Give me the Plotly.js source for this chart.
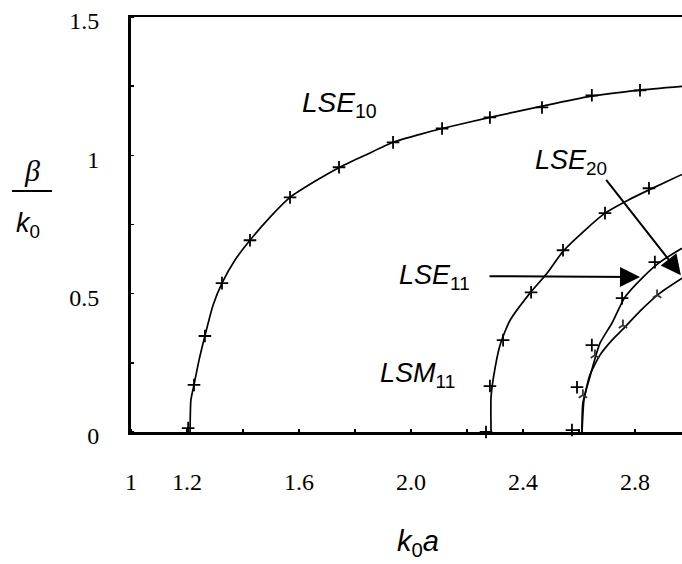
<!DOCTYPE html>
<html>
<head>
<meta charset="utf-8">
<script src="https://cdn.plot.ly/plotly-3.0.1.min.js"></script>
<style>html,body{margin:0;padding:0;background:#fff;}#chart{width:682px;height:564px;}</style>
</head>
<body>
<div id="chart"></div>
<script>
// ---- data ----
const xTickVals = [1, 1.2, 1.6, 2.0, 2.4, 2.8];
const xTickText = ['1', '1.2', '1.6', '2.0', '2.4', '2.8'];
const yTickVals = [0, 0.5, 1, 1.5];
const yTickText = ['0', '0.5', '1', '1.5'];

// LSE10 curve and computed points
const lse10LineX = [1.211, 1.214, 1.225, 1.243, 1.264, 1.293, 1.325, 1.371, 1.425, 1.496, 1.568, 1.657, 1.746, 1.836, 1.936, 2.032, 2.111, 2.282, 2.464, 2.639, 2.811, 2.968];
const lse10LineY = [0, 0.116, 0.170, 0.260, 0.347, 0.458, 0.538, 0.621, 0.693, 0.776, 0.848, 0.906, 0.957, 1.0, 1.047, 1.076, 1.097, 1.137, 1.177, 1.213, 1.235, 1.249];
const lse10PtsX = [1.204, 1.225, 1.264, 1.325, 1.425, 1.568, 1.743, 1.936, 2.111, 2.282, 2.468, 2.646, 2.818];
const lse10PtsY = [0.014, 0.170, 0.347, 0.538, 0.693, 0.848, 0.957, 1.047, 1.097, 1.137, 1.173, 1.217, 1.235];

// LSM11 curve and points
const lsm11LineX = [2.286, 2.286, 2.296, 2.318, 2.354, 2.425, 2.486, 2.543, 2.621, 2.693, 2.775, 2.854, 2.968];
const lsm11LineY = [0, 0.126, 0.206, 0.314, 0.404, 0.502, 0.574, 0.653, 0.729, 0.791, 0.838, 0.877, 0.931];
const lsm11PtsX = [2.268, 2.282, 2.329, 2.429, 2.543, 2.693, 2.850];
const lsm11PtsY = [0, 0.166, 0.332, 0.505, 0.657, 0.791, 0.881];

// LSE11 curve and points
const lse11LineX = [2.611, 2.614, 2.639, 2.675, 2.718, 2.764, 2.829, 2.889, 2.968];
const lse11LineY = [0, 0.105, 0.199, 0.321, 0.394, 0.487, 0.560, 0.614, 0.664];
const lse11PtsX = [2.575, 2.593, 2.646, 2.754, 2.871];
const lse11PtsY = [0.007, 0.162, 0.314, 0.484, 0.614];

// LSE20 curve and points
const lse20LineX = [2.611, 2.618, 2.639, 2.675, 2.718, 2.764, 2.818, 2.889, 2.968];
const lse20LineY = [0, 0.116, 0.206, 0.278, 0.332, 0.379, 0.437, 0.502, 0.556];
const lse20PtsX = [2.614, 2.657, 2.757, 2.879];
const lse20PtsY = [0.134, 0.278, 0.386, 0.495];

// ---- traces ----
function lineTrace(x, y) {
  return {x: x, y: y, mode: 'lines', type: 'scatter', hoverinfo: 'skip',
          line: {color: '#000', width: 1.7, shape: 'spline', smoothing: 0.6}, cliponaxis: true};
}
function ptsTrace(x, y, sym, size, col) {
  return {x: x, y: y, mode: 'markers', type: 'scatter', hoverinfo: 'skip',
          marker: {symbol: sym, size: size, color: col, line: {color: col, width: 1.8}}, cliponaxis: false};
}
const data = [
  lineTrace(lse10LineX, lse10LineY), ptsTrace(lse10PtsX, lse10PtsY, 'cross-thin-open', 9, '#000'),
  lineTrace(lsm11LineX, lsm11LineY), ptsTrace(lsm11PtsX, lsm11PtsY, 'cross-thin-open', 9, '#000'),
  lineTrace(lse11LineX, lse11LineY), ptsTrace(lse11PtsX, lse11PtsY, 'cross-thin-open', 9, '#000'),
  lineTrace(lse20LineX, lse20LineY), ptsTrace(lse20PtsX, lse20PtsY, 'y-up-open', 7, '#333')
];

const labelFont = {family: 'Liberation Sans, Arial, sans-serif', size: 27, color: '#000'};
const tickFont = {family: 'Liberation Serif, Times New Roman, serif', size: 24, color: '#000'};
const layout = {
  width: 682, height: 564,
  margin: {l: 131, r: 0, t: 17, b: 132, autoexpand: false},
  paper_bgcolor: '#fff', plot_bgcolor: '#fff',
  showlegend: false,
  xaxis: {
    range: [1, 2.968], showgrid: false, zeroline: false,
    showline: true, linecolor: '#000', linewidth: 2.5, mirror: true,
    tickmode: 'array', tickvals: xTickVals, ticktext: xTickText,
    ticks: '', ticklabelstandoff: 27, ticklabeloverflow: 'allow',
    minor: {tickmode: 'linear', tick0: 1, dtick: 0.2, ticks: 'inside', ticklen: 3, tickcolor: '#000', tickwidth: 1.5},
    tickfont: tickFont
  },
  yaxis: {
    range: [0, 1.5], showgrid: false, zeroline: false,
    showline: true, linecolor: '#000', linewidth: 3, mirror: false,
    tickmode: 'array', tickvals: yTickVals, ticktext: yTickText,
    ticks: '', ticklabelstandoff: 24, ticklabelshift: 4, ticklabeloverflow: 'allow',
    minor: {tickmode: 'linear', tick0: 0, dtick: 0.25, ticks: 'inside', ticklen: 3, tickcolor: '#000', tickwidth: 1.5},
    tickfont: tickFont
  },
  shapes: [
    {type: 'line', xref: 'paper', yref: 'paper', x0: -0.216, x1: -0.1434, y0: 0.5807, y1: 0.5807,
     line: {color: '#000', width: 2}}
  ],
  annotations: [
    // curve labels
    {x: 1.604, y: 1.185, xref: 'x', yref: 'y', xanchor: 'left', yanchor: 'middle', showarrow: false,
     text: '<i>LSE</i><sub>10</sub>', font: Object.assign({}, labelFont, {size: 28})},
    {x: 2.436, y: 0.975, xref: 'x', yref: 'y', xanchor: 'left', yanchor: 'middle', showarrow: false,
     text: '<i>LSE</i><sub>20</sub>', font: labelFont},
    {x: 1.950, y: 0.56, xref: 'x', yref: 'y', xanchor: 'left', yanchor: 'middle', showarrow: false,
     text: '<i>LSE</i><sub>11</sub>', font: labelFont},
    {x: 1.882, y: 0.205, xref: 'x', yref: 'y', xanchor: 'left', yanchor: 'middle', showarrow: false,
     text: '<i>LSM</i><sub>11</sub>', font: labelFont},
    // arrows
    {x: 2.818, y: 0.560, ax: 2.275, ay: 0.563, xref: 'x', yref: 'y', axref: 'x', ayref: 'y',
     text: '', showarrow: true, arrowhead: 2, arrowsize: 2, arrowwidth: 2, arrowcolor: '#000', standoff: 0, startstandoff: 0},
    {x: 2.964, y: 0.567, ax: 2.693, ay: 0.917, xref: 'x', yref: 'y', axref: 'x', ayref: 'y',
     text: '', showarrow: true, arrowhead: 2, arrowsize: 2, arrowwidth: 2, arrowcolor: '#000', standoff: 0, startstandoff: 0},
    // x axis title
    {x: 0.521, y: -0.268, xref: 'paper', yref: 'paper', xanchor: 'center', yanchor: 'middle', showarrow: false,
     text: '<i>k</i><sub>0</sub><i>a</i>', font: {family: 'Liberation Sans, Arial, sans-serif', size: 29, color: '#000'}},
    // y axis title (fraction)
    {x: -0.18, y: 0.629, xref: 'paper', yref: 'paper', xanchor: 'center', yanchor: 'middle', showarrow: false,
     text: '<i>β</i>', font: {family: 'Liberation Serif, Times New Roman, serif', size: 30, color: '#000'}},
    {x: -0.187, y: 0.50, xref: 'paper', yref: 'paper', xanchor: 'center', yanchor: 'middle', showarrow: false,
     text: '<i>k</i><sub>0</sub>', font: {family: 'Liberation Sans, Arial, sans-serif', size: 27, color: '#000'}}
  ]
};

Plotly.newPlot('chart', data, layout, {staticPlot: true, displayModeBar: false});
</script>
</body>
</html>
